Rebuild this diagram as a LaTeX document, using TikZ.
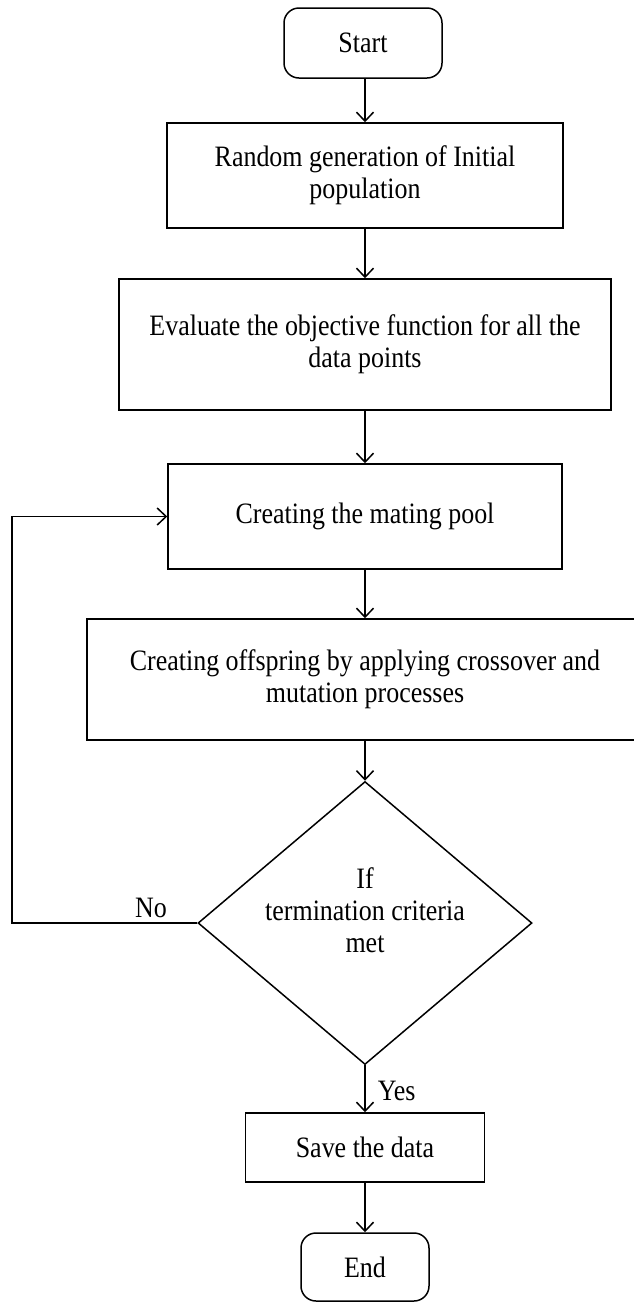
\documentclass[tikz,border=0pt]{standalone}
\usepackage{fontspec}
\setmainfont{Liberation Serif}[FakeStretch=0.877]
\usetikzlibrary{shapes.geometric,arrows.meta}
\tikzset{
	txt/.style = {font=\fontsize{29.6}{32}\selectfont, align=center},
	term/.style = {txt, draw, rounded corners=15pt, inner sep=0pt},
	proc/.style = {txt, draw, rectangle, inner sep=0pt},
	decision/.style = {draw, diamond, inner sep=0pt}
}
\begin{document}
\begin{tikzpicture} [x=1pt, y=-1pt, line width=1.5pt, >={Straight Barb[length=9pt,width=17pt]}]
	\useasboundingbox (0,0) rectangle (634,1302);
	\node (start) [term, minimum width=158pt, minimum height=70pt] at (363,43) {Start};
	\node (init) [proc, minimum width=396pt, minimum height=105pt] at (365,175.5) {Random generation of Initial\\population};
	\node (eval) [proc, minimum width=492pt, minimum height=131pt] at (365,344.5) {Evaluate the objective function for all the\\data points};
	\node (pool) [proc, minimum width=394pt, minimum height=105pt] at (365,516.5) {Creating the mating pool};
	\node (offs) [proc, minimum width=556pt, minimum height=121pt] at (365,679.5) {Creating offspring by applying crossover and\\mutation processes};
	\node (cond) [decision, minimum width=334pt, minimum height=283pt] at (365,923) {};
	\node (condtxt) [txt] at (365,910) {If\\termination criteria\\met};
	\node (save) [proc, minimum width=239pt, minimum height=69pt] at (365,1147.5) {Save the data};
	\node (end) [term, minimum width=128pt, minimum height=68pt] at (365,1267) {End};
	\coordinate (back) at (12,923);
	% main flow
	\draw [->] (start.south -| init.north) -- (init.north);
	\draw [->] (init) -- (eval);
	\draw [->] (eval) -- (pool);
	\draw [->] (pool) -- (offs);
	\draw [->] (offs) -- (cond.north);
	\draw [->] (cond.south) -- node [txt, right, inner sep=0pt, xshift=12pt, yshift=-2pt] {Yes} (save.north);
	\draw [->] (save) -- (end);
	% loop back
	\draw [->] (cond.west) -- node [txt, above, pos=0.25, inner sep=4pt] {No} (back) |- (pool.west);
\end{tikzpicture}
\end{document}
